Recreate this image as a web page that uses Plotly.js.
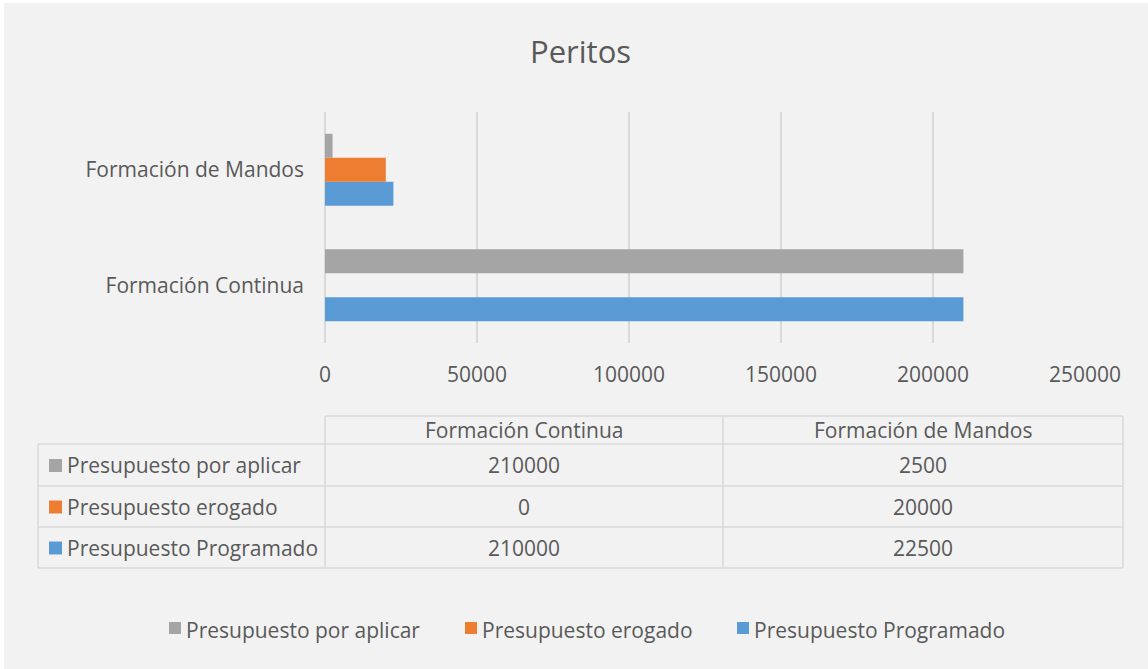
<!DOCTYPE html>
<html>
<head>
<meta charset="utf-8">
<script src="https://cdn.plot.ly/plotly-3.0.1.min.js"></script>
<style>
  html, body { margin: 0; padding: 0; background: #ffffff; }
  #chart { position: absolute; left: 4px; top: 3px; width: 1144px; height: 666px; }
</style>
</head>
<body>
<div id="chart"></div>
<script>
// ---- Data ----
const categories = ["Formación Continua", "Formación de Mandos"];
const seriesNames = ["Presupuesto Programado", "Presupuesto erogado", "Presupuesto por aplicar"];
const programado = [210000, 22500];
const erogado = [0, 20000];
const porAplicar = [210000, 2500];
const seriesColors = ["#5b9bd5", "#ed7d31", "#a5a5a5"];
const xTicks = [0, 50000, 100000, 150000, 200000, 250000];
const chartTitle = "Peritos";

const seriesValues = [programado, erogado, porAplicar];
const FONT = "Open Sans, sans-serif";
const TXT = "#595959";
const GRID = "#d9d9d9";
const FS = 21;

const traces = seriesNames.map((name, i) => ({
  type: "bar",
  orientation: "h",
  name: name,
  y: categories,
  x: seriesValues[i],
  marker: { color: seriesColors[i] },
  hoverinfo: "x+name",
  showlegend: false
}));

// ---- geometry helpers (absolute page pixels -> paper coords) ----
const plotL = 325, plotR = 1085, plotT = 112, plotB = 343;
const px = v => (v - plotL) / (plotR - plotL);
const py = v => (plotB - v) / (plotB - plotT);

// ---- Data table below the chart, built from the arrays ----
const tblLeft = 38, tblLabelR = 325, tblColMid = 723, tblRight = 1123;
const rowEdges = [416, 444, 486, 527, 568];
const colCenters = [(tblLabelR + tblColMid) / 2, (tblColMid + tblRight) / 2];

const shapes = [];
const line = { color: GRID, width: 1.5 };
function hline(x0, x1, y) {
  shapes.push({ type: "line", xref: "paper", yref: "paper", x0: px(x0), x1: px(x1), y0: py(y), y1: py(y), line: line });
}
function vline(x, y0, y1) {
  shapes.push({ type: "line", xref: "paper", yref: "paper", x0: px(x), x1: px(x), y0: py(y0), y1: py(y1), line: line });
}
hline(tblLabelR, tblRight, rowEdges[0]);
for (let r = 1; r < rowEdges.length; r++) hline(tblLeft, tblRight, rowEdges[r]);
vline(tblLeft, rowEdges[1], rowEdges[4]);
vline(tblLabelR, rowEdges[0], rowEdges[4]);
vline(tblColMid, rowEdges[0], rowEdges[4]);
vline(tblRight, rowEdges[0], rowEdges[4]);

const annotations = [];
const tfont = { family: FONT, size: FS, color: TXT };
categories.forEach((c, j) => {
  annotations.push({ xref: "paper", yref: "paper", x: px(colCenters[j]), y: py((rowEdges[0] + rowEdges[1]) / 2),
    text: c, showarrow: false, xanchor: "center", yanchor: "middle", font: tfont });
});
const rowOrder = [2, 1, 0];  // por aplicar, erogado, Programado
rowOrder.forEach((si, r) => {
  const yc = (rowEdges[r + 1] + rowEdges[r + 2]) / 2;
  shapes.push({ type: "rect", xref: "paper", yref: "paper",
    x0: px(49), x1: px(62), y0: py(yc - 6), y1: py(yc + 7),
    fillcolor: seriesColors[si], line: { width: 0 } });
  annotations.push({ xref: "paper", yref: "paper", x: px(65), y: py(yc),
    text: seriesNames[si], showarrow: false, xanchor: "left", yanchor: "middle", font: tfont });
  categories.forEach((c, j) => {
    annotations.push({ xref: "paper", yref: "paper", x: px(colCenters[j]), y: py(yc),
      text: String(seriesValues[si][j]), showarrow: false, xanchor: "center", yanchor: "middle", font: tfont });
  });
});

// ---- Legend at the bottom (key squares + names) ----
const legendOrder = [2, 1, 0];
const legendKeyX = [169, 465, 737];
const legendY = 628;
legendOrder.forEach((si, k) => {
  shapes.push({ type: "rect", xref: "paper", yref: "paper",
    x0: px(legendKeyX[k]), x1: px(legendKeyX[k] + 12), y0: py(legendY - 6), y1: py(legendY + 6),
    fillcolor: seriesColors[si], line: { width: 0 } });
  annotations.push({ xref: "paper", yref: "paper", x: px(legendKeyX[k] + 15), y: py(legendY + 2),
    text: seriesNames[si], showarrow: false, xanchor: "left", yanchor: "middle", font: tfont });
});

const layout = {
  width: 1144,
  height: 666,
  paper_bgcolor: "#f2f2f2",
  plot_bgcolor: "#f2f2f2",
  margin: { l: 321, r: 63, t: 109, b: 326, pad: 0 },
  title: {
    text: chartTitle,
    font: { family: FONT, size: 31, color: TXT },
    xref: "container", yref: "container",
    x: 0.504, xanchor: "center",
    y: 0.926, yanchor: "middle"
  },
  barmode: "group",
  bargap: 0.377,
  bargroupgap: 0,
  xaxis: {
    range: [0, 250000],
    tickvals: xTicks,
    ticktext: xTicks.map(String),
    showgrid: true,
    gridcolor: GRID,
    gridwidth: 1.5,
    zeroline: true,
    zerolinecolor: GRID,
    zerolinewidth: 1.5,
    showline: false,
    ticks: "",
    ticklabelstandoff: 17,
    tickfont: { family: FONT, size: FS, color: TXT },
    fixedrange: true
  },
  yaxis: {
    type: "category",
    categoryorder: "array",
    categoryarray: categories,
    showgrid: false,
    zeroline: false,
    showline: false,
    ticks: "",
    ticklabelstandoff: 20,
    tickfont: { family: FONT, size: FS, color: TXT },
    fixedrange: true
  },
  showlegend: false,
  shapes: shapes,
  annotations: annotations
};

Plotly.newPlot("chart", traces, layout, { displayModeBar: false });
</script>
</body>
</html>
